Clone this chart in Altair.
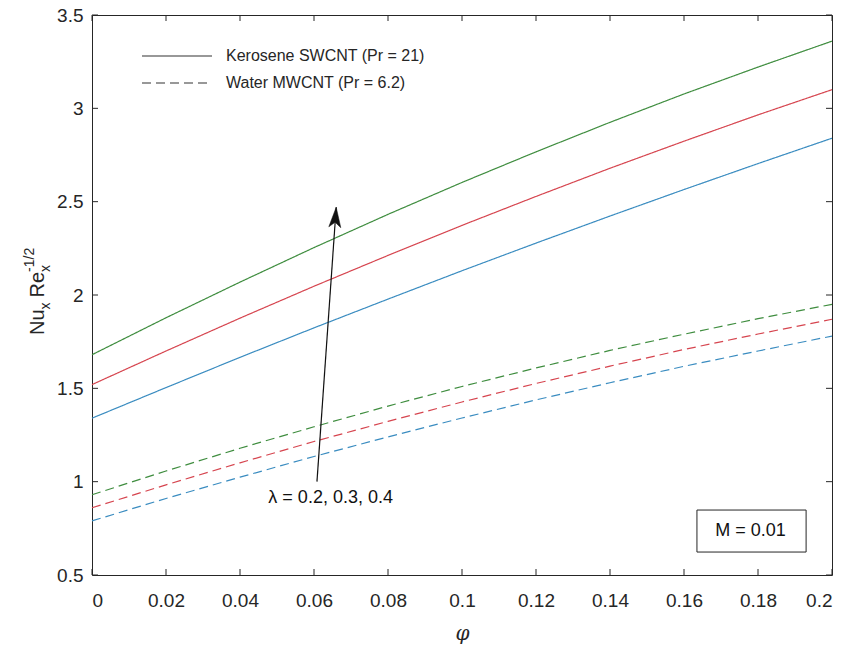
import math
import altair as alt
import pandas as pd

# ---------------- data ----------------
phi = [0.0, 0.02, 0.04, 0.06, 0.08, 0.10, 0.12, 0.14, 0.16, 0.18, 0.20]
ker_l02 = [1.34, 1.504, 1.666, 1.824, 1.978, 2.130, 2.278, 2.423, 2.565, 2.704, 2.84]
ker_l03 = [1.52, 1.700, 1.876, 2.047, 2.212, 2.373, 2.528, 2.679, 2.824, 2.965, 3.10]
ker_l04 = [1.68, 1.878, 2.069, 2.254, 2.432, 2.603, 2.767, 2.925, 3.077, 3.221, 3.36]
wat_l02 = [0.79, 0.910, 1.024, 1.135, 1.240, 1.341, 1.438, 1.530, 1.618, 1.700, 1.78]
wat_l03 = [0.86, 0.983, 1.101, 1.215, 1.323, 1.427, 1.526, 1.619, 1.708, 1.791, 1.87]
wat_l04 = [0.93, 1.057, 1.179, 1.294, 1.405, 1.510, 1.609, 1.703, 1.790, 1.873, 1.95]

lambdas = ["0.2", "0.3", "0.4"]
fluids = ["Kerosene SWCNT (Pr = 21)", "Water MWCNT (Pr = 6.2)"]
x_ticks = [0, 0.02, 0.04, 0.06, 0.08, 0.1, 0.12, 0.14, 0.16, 0.18, 0.2]
y_ticks = [0.5, 1, 1.5, 2, 2.5, 3, 3.5]

arrow_start = (0.0608, 1.0)
arrow_end = (0.066, 2.47)
lambda_label = "\u03bb = 0.2, 0.3, 0.4"
m_label = "M = 0.01"

series = {
    (fluids[0], "0.2"): ker_l02, (fluids[0], "0.3"): ker_l03, (fluids[0], "0.4"): ker_l04,
    (fluids[1], "0.2"): wat_l02, (fluids[1], "0.3"): wat_l03, (fluids[1], "0.4"): wat_l04,
}
rows = []
for (fl, lam), vals in series.items():
    for p, v in zip(phi, vals):
        rows.append({"phi": p, "nu": v, "lam": lam, "fluid": fl, "key": fl + lam})
df = pd.DataFrame(rows)

# ---------------- layout ----------------
W, H = 740, 560
PL, PT = 92, 15
FONT = "Liberation Sans"
AXC = "#262626"
colors = ["#3a8cc0", "#d6454f", "#3f8d3f"]

xs = alt.Scale(domain=[0, 0.2], nice=False, zero=False)
ys = alt.Scale(domain=[0.5, 3.5], nice=False, zero=False)

x_enc = alt.X("phi:Q", scale=xs, axis=alt.Axis(
    values=x_ticks, format="~g", domain=False, ticks=False, grid=False,
    labelFont=FONT, labelFontSize=19, labelColor=AXC, labelPadding=16,
    title="\u03c6", titleFont="DejaVu Serif", titleFontStyle="italic",
    titleFontWeight="normal", titleFontSize=20, titleColor=AXC, titlePadding=13))
y_enc = alt.Y("nu:Q", scale=ys, axis=alt.Axis(
    values=y_ticks, format="~g", domain=False, ticks=False, grid=False,
    labelFont=FONT, labelFontSize=19, labelColor=AXC, labelPadding=9, title=None))

lines = alt.Chart(df).mark_line(strokeWidth=1.2).encode(
    x=x_enc, y=y_enc,
    color=alt.Color("lam:N", scale=alt.Scale(domain=lambdas, range=colors), legend=None),
    strokeDash=alt.StrokeDash("fluid:N", scale=alt.Scale(domain=fluids, range=[[1, 0], [9, 5]]), legend=None),
    detail="key:N",
)

# inward ticks on all four sides
xt = pd.DataFrame({"t": x_ticks})
yt = pd.DataFrame({"t": y_ticks})
tk = dict(color=AXC, strokeWidth=1)
ticks = [
    alt.Chart(xt).mark_rule(**tk).encode(x=alt.X("t:Q", scale=xs), y=alt.value(H), y2=alt.value(H - 6)),
    alt.Chart(xt).mark_rule(**tk).encode(x=alt.X("t:Q", scale=xs), y=alt.value(0), y2=alt.value(6)),
    alt.Chart(yt).mark_rule(**tk).encode(y=alt.Y("t:Q", scale=ys), x=alt.value(0), x2=alt.value(6)),
    alt.Chart(yt).mark_rule(**tk).encode(y=alt.Y("t:Q", scale=ys), x=alt.value(W), x2=alt.value(W - 6)),
]

one = pd.DataFrame({"a": [0]})

# legend
leg = []
for i, (fl, dash) in enumerate(zip(fluids, [[1, 0], [9, 5]])):
    yy = 41 + 27 * i
    leg.append(alt.Chart(one).mark_rule(color="#333333", strokeWidth=1.2, strokeDash=dash).encode(
        x=alt.value(50), x2=alt.value(120), y=alt.value(yy)))
    leg.append(alt.Chart(one).mark_text(align="left", baseline="middle", font=FONT, fontSize=16,
                                        color=AXC).encode(x=alt.value(134), y=alt.value(yy), text=alt.value(fl)))

# arrow
adf = pd.DataFrame({"x": [arrow_start[0]], "y": [arrow_start[1]], "x2": [arrow_end[0]], "y2": [arrow_end[1]]})
arrow_line = alt.Chart(adf).mark_rule(color="#111111", strokeWidth=1.2).encode(
    x=alt.X("x:Q", scale=xs), y=alt.Y("y:Q", scale=ys), x2="x2:Q", y2="y2:Q")
dxp = (arrow_end[0] - arrow_start[0]) / 0.2 * W
dyp = (arrow_end[1] - arrow_start[1]) / 3.0 * H
ang = math.degrees(math.atan2(dxp, dyp))
head = alt.Chart(adf).mark_point(
    shape="M0,0 L0.3,1 L0,0.75 L-0.3,1 Z", filled=True, fill="#111111", stroke="#111111",
    strokeWidth=0.5, size=1600, angle=ang, opacity=1).encode(
    x=alt.X("x2:Q", scale=xs), y=alt.Y("y2:Q", scale=ys))

lam_text = alt.Chart(pd.DataFrame({"x": [0.0645], "y": [0.915], "t": [lambda_label]})).mark_text(
    font=FONT, fontSize=18, color="#111111", align="center", baseline="middle").encode(
    x=alt.X("x:Q", scale=xs), y=alt.Y("y:Q", scale=ys), text="t:N")

# M box
mbox = alt.Chart(pd.DataFrame({"x": [0.1635], "x2": [0.193], "y": [0.623], "y2": [0.848]})).mark_rect(
    fill="white", stroke=AXC, strokeWidth=1).encode(
    x=alt.X("x:Q", scale=xs), x2="x2:Q", y=alt.Y("y:Q", scale=ys), y2="y2:Q")
mtext = alt.Chart(pd.DataFrame({"x": [0.178], "y": [0.735], "t": [m_label]})).mark_text(
    font=FONT, fontSize=18, color="#111111", align="center", baseline="middle").encode(
    x=alt.X("x:Q", scale=xs), y=alt.Y("y:Q", scale=ys), text="t:N")

# y title with sub/superscripts (rotated pieces)
def rot(text, xs_, ys_, size):
    return alt.Chart(one).mark_text(angle=270, align="left", baseline="alphabetic", font=FONT,
                                    fontSize=size, color=AXC).encode(
        x=alt.value(xs_ - PL), y=alt.value(ys_ - PT), text=alt.value(text))

bx = 44
y0 = 335
big, small = 20, 14
nu_w = (0.722 + 0.556) * big
sub_w = 0.5 * small
ytitle = [
    rot("Nu", bx, y0, big),
    rot("x", bx + 6, y0 - nu_w, small),
    rot("Re", bx, y0 - nu_w - sub_w - 5, big),
    rot("x", bx + 6, y0 - 2 * nu_w - sub_w - 5, small),
    rot("-1/2", bx - 10, y0 - 2 * nu_w - sub_w - 5, small),
]

chart = alt.layer(lines, *ticks, arrow_line, head, lam_text, mbox, mtext, *leg, *ytitle).properties(
    width=W, height=H, autosize="none",
    padding={"left": PL, "top": PT, "right": 851 - PL - W, "bottom": 646 - PT - H},
    background="white",
).configure_view(stroke=AXC, strokeWidth=1)

chart.save("out.html", embed_options={"renderer": "svg", "actions": False})
